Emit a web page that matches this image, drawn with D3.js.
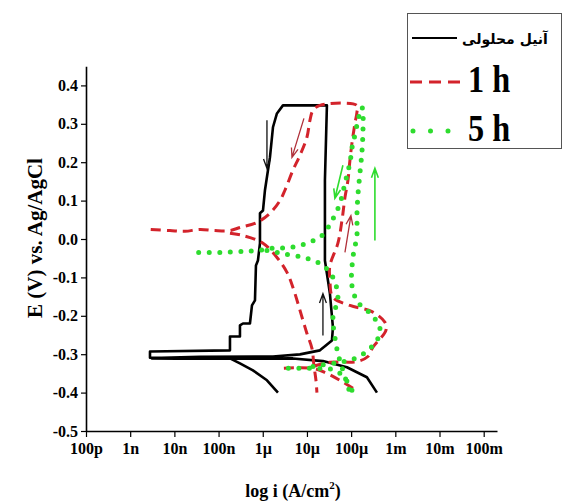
<!DOCTYPE html>
<html><head><meta charset="utf-8">
<script src="https://cdn.jsdelivr.net/npm/d3@7"></script>
<style>body{margin:0;background:#fff}svg{display:block}</style>
</head><body>
<svg id="c" width="563" height="503"></svg>
<script>
// ---- data (log10 of current density in A/cm2, potential in V vs Ag/AgCl); null = break
const xTickValues = [1e-10,1e-9,1e-8,1e-7,1e-6,1e-5,1e-4,1e-3,1e-2,1e-1];
const xTickLabels = ["100p","1n","10n","100n","1\u00b5","10\u00b5","100\u00b5","1m","10m","100m"];
const yTickValues = [-0.5,-0.4,-0.3,-0.2,-0.1,0.0,0.1,0.2,0.3,0.4];
const yTickLabels = ["-0.5","-0.4","-0.3","-0.2","-0.1","0.0","0.1","0.2","0.3","0.4"];
const seriesNames = ["\u0622\u0646\u06cc\u0644 \u0645\u062d\u0644\u0648\u0644\u06cc","1 h","5 h"];

const annealLogI = [-5.656,-5.905,-6.222,-6.516,-6.742,-8.552,-8.552,-6.742,-6.742,-6.516,-6.516,-6.448,-6.290,-6.244,-6.176,-6.154,-6.109,-6.063,-6.063,-5.995,-5.950,-5.882,-5.837,-5.769,-5.679,-5.543,-4.548,-4.593,-4.593,-4.480,-4.412,-4.434,-4.706,-5.158,-5.769,-7.421,-8.507,-8.507,-7.421,-5.317,-4.638,-4.095,-3.643,-3.416];
const annealE    = [-0.400,-0.368,-0.342,-0.324,-0.311,-0.309,-0.293,-0.290,-0.254,-0.254,-0.225,-0.220,-0.220,-0.173,-0.160,-0.069,-0.056,-0.011,0.067,0.074,0.127,0.179,0.2125,0.291,0.327,0.348,0.348,0.153,-0.056,-0.142,-0.230,-0.264,-0.290,-0.3005,-0.306,-0.307,-0.310,-0.312,-0.312,-0.311,-0.318,-0.334,-0.360,-0.400];

const h1LogI = [-3.959,-4.253,-4.548,-4.864,-5.611,null,-4.864,-4.480,-3.869,-3.620,-3.507,-3.213,-3.235,-3.529,-4.027,-4.412,-4.480,-4.480,-4.299,-4.208,-4.140,-4.072,-4.027,-3.982,-3.914,-3.869,-3.869,-4.706,-4.864,-4.932,-5.000,-5.158,-5.317,-5.498,-5.611,-5.837,-6.131,-6.516,-6.742,-7.081,-7.421,-7.760,-8.100,-8.552,null,-6.742,-6.448,-5.995,-5.679,-5.452,-5.317,-5.090,-5.000,-4.887,-4.842,-4.796,-4.774];
const h1E    = [-0.389,-0.368,-0.350,-0.337,-0.337,null,-0.332,-0.321,-0.319,-0.306,-0.282,-0.238,-0.217,-0.189,-0.173,-0.152,-0.108,-0.069,-0.011,0.048,0.108,0.153,0.205,0.249,0.301,0.330,0.348,0.348,0.335,0.309,0.265,0.218,0.179,0.127,0.100,0.067,0.043,0.030,0.022,0.022,0.025,0.020,0.022,0.025,null,0.015,0.009,-0.011,-0.048,-0.087,-0.126,-0.212,-0.246,-0.285,-0.329,-0.368,-0.400];

const h5LogI = [-3.982,-4.140,-4.367,-4.706,-5.656,null,-4.864,-4.706,-4.253,-3.914,-3.620,-3.394,-3.348,-3.529,-3.846,-3.982,-3.959,-3.869,-3.869,-3.846,-3.801,-3.756,-3.733,-3.733,-3.756,-3.846,-3.914,-3.959,-4.027,-4.140,-4.253,-4.434,-4.661,-5.000,-5.385,-5.769,-6.131,-6.448,-6.968,-7.489,null,-5.905,-5.543,-5.090,-4.706,-4.434,-4.299,-4.412,-4.367,-4.299,-4.186,-4.027];
const h5E    = [-0.394,-0.363,-0.342,-0.337,-0.337,null,-0.332,-0.329,-0.321,-0.311,-0.290,-0.259,-0.233,-0.198,-0.165,-0.121,-0.048,0.009,0.061,0.114,0.171,0.226,0.278,0.330,0.343,0.309,0.270,0.252,0.199,0.145,0.093,0.048,0.009,-0.011,-0.022,-0.024,-0.030,-0.032,-0.035,-0.035,null,-0.030,-0.038,-0.048,-0.064,-0.095,-0.152,-0.204,-0.256,-0.298,-0.342,-0.400];

// scan-direction arrows: [logI1, E1, logI2, E2] (head at point 2)
const annealArrows = [[-5.905,0.309,-5.905,0.184],[-4.638,-0.251,-4.638,-0.142]];
const h1Arrows = [[-5.068,0.314,-5.339,0.2125],[-4.140,-0.035,-4.005,0.061]];
const h5Arrows = [[-4.186,0.192,-4.367,0.106],[-3.462,-0.004,-3.462,0.184]];

// ---- chart
const svg = d3.select("#c");
const FONT = "'Liberation Serif','Times New Roman',serif";
const x = d3.scaleLog().domain([1e-10, 0.2]).range([86, 497]);
const y = d3.scaleLinear().domain([-0.5, 0.45]).range([431, 66.2]);

// minor ticks
const xMinor = [];
for (let e = -10; e <= -1; e++) for (let k = 2; k <= 9; k++) { const v = k * Math.pow(10, e); if (v <= 0.2) xMinor.push(v); }
const yMinor = d3.range(-0.45, 0.46, 0.1).map(v => +v.toFixed(2));

const gx = svg.append("g").attr("transform", "translate(0,431)");
gx.call(d3.axisBottom(x).tickValues(xMinor).tickFormat("").tickSize(3).tickSizeOuter(0));
gx.call(d3.axisBottom(x).tickValues(xTickValues).tickFormat((d,i)=>xTickLabels[i]).tickSize(6).tickPadding(6).tickSizeOuter(0));
const gy = svg.append("g").attr("transform", "translate(86,0)");
gy.call(d3.axisLeft(y).tickValues(yMinor).tickFormat("").tickSize(3).tickSizeOuter(0));
gy.call(d3.axisLeft(y).tickValues(yTickValues).tickFormat((d,i)=>yTickLabels[i]).tickSize(5).tickPadding(3).tickSizeOuter(0));
svg.selectAll(".domain").attr("stroke", "#000").attr("stroke-width", 1.6);
svg.selectAll(".tick line").attr("stroke", "#000").attr("stroke-width", 1.2);
svg.selectAll(".tick text").attr("font-family", FONT).attr("font-weight", "bold").attr("font-size", 16).attr("fill", "#000");

// titles
const xt = svg.append("text").attr("x", 293).attr("y", 497).attr("text-anchor", "middle")
  .attr("font-family", FONT).attr("font-weight", "bold").attr("font-size", 18);
xt.append("tspan").text("log i (A/cm");
xt.append("tspan").text("2").attr("font-size", 11).attr("dy", -8);
xt.append("tspan").text(")").attr("dy", 8);
svg.append("text").attr("transform", "translate(42,238) rotate(-90)").attr("text-anchor", "middle")
  .attr("font-family", FONT).attr("font-weight", "bold").attr("font-size", 21).text("E (V) vs. Ag/AgCl");

// curves
function pts(li, e) { return li.map((v, i) => ({ li: v, e: e[i] })); }
const line = d3.line().defined(d => d.li !== null && d.e !== null)
  .x(d => x(Math.pow(10, d.li))).y(d => y(d.e));
const smooth = d3.line().defined(d => d.li !== null && d.e !== null)
  .x(d => x(Math.pow(10, d.li))).y(d => y(d.e)).curve(d3.curveCatmullRom.alpha(0.5));

const RED = "#d3232b", GREEN = "#2edc2e";
svg.append("path").attr("d", line(pts(annealLogI, annealE))).attr("fill", "none")
  .attr("stroke", "#000").attr("stroke-width", 2.6).attr("stroke-linejoin", "round");
svg.append("path").attr("d", smooth(pts(h1LogI, h1E))).attr("fill", "none")
  .attr("stroke", RED).attr("stroke-width", 3).attr("stroke-dasharray", "10,6");
svg.append("path").attr("d", smooth(pts(h5LogI, h5E))).attr("fill", "none")
  .attr("stroke", GREEN).attr("stroke-width", 5).attr("stroke-linecap", "round").attr("stroke-dasharray", "0,10.5");

// arrows
function arrow(a, color, w) {
  const x1 = x(Math.pow(10, a[0])), y1 = y(a[1]), x2 = x(Math.pow(10, a[2])), y2 = y(a[3]);
  const ang = Math.atan2(y2 - y1, x2 - x1), L = 10, sp = 0.35;
  const p = d3.path();
  p.moveTo(x1, y1); p.lineTo(x2, y2);
  p.moveTo(x2 - L * Math.cos(ang - sp), y2 - L * Math.sin(ang - sp)); p.lineTo(x2, y2);
  p.lineTo(x2 - L * Math.cos(ang + sp), y2 - L * Math.sin(ang + sp));
  svg.append("path").attr("d", p.toString()).attr("fill", "none").attr("stroke", color).attr("stroke-width", w);
}
annealArrows.forEach(a => arrow(a, "#111", 1.3));
h1Arrows.forEach(a => arrow(a, "#b0303a", 1.3));
h5Arrows.forEach(a => arrow(a, GREEN, 1.6));

// legend
const lg = svg.append("g");
lg.append("rect").attr("x", 407.5).attr("y", 13.5).attr("width", 154).attr("height", 135)
  .attr("fill", "#fff").attr("stroke", "#555").attr("stroke-width", 1);
lg.append("line").attr("x1", 412).attr("x2", 457).attr("y1", 38).attr("y2", 38).attr("stroke", "#000").attr("stroke-width", 2);
lg.append("text").attr("x", 505).attr("y", 44).attr("text-anchor", "middle")
  .attr("font-family", "'DejaVu Sans',sans-serif").attr("font-weight", "bold").attr("font-size", 14).text(seriesNames[0]);
lg.append("line").attr("x1", 410).attr("x2", 462).attr("y1", 82).attr("y2", 82).attr("stroke", RED).attr("stroke-width", 3).attr("stroke-dasharray", "12,7");
lg.append("text").attr("transform", "translate(468,92) scale(0.85,1)")
  .attr("font-family", FONT).attr("font-weight", "bold").attr("font-size", 38).text(seriesNames[1]);
lg.append("line").attr("x1", 413).attr("x2", 462).attr("y1", 131).attr("y2", 131).attr("stroke", GREEN).attr("stroke-width", 5)
  .attr("stroke-linecap", "round").attr("stroke-dasharray", "0,17.5");
lg.append("text").attr("transform", "translate(468,141) scale(0.85,1)")
  .attr("font-family", FONT).attr("font-weight", "bold").attr("font-size", 38).text(seriesNames[2]);
</script>
</body></html>
